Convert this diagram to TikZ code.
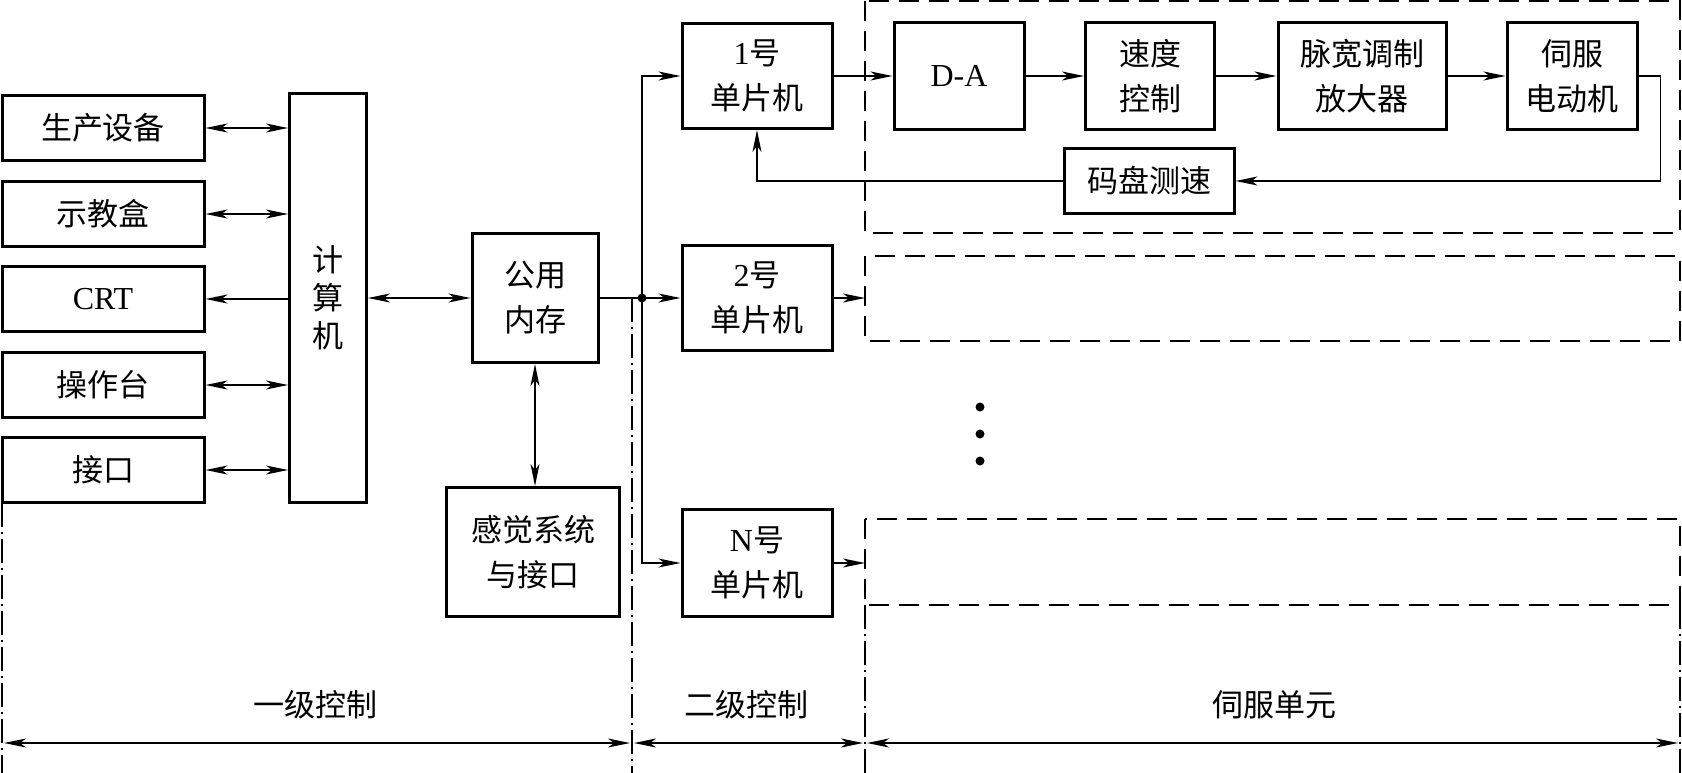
\documentclass[tikz,border=0pt]{standalone}
\usepackage{fontspec}
\setmainfont{Liberation Serif}
\newfontfamily\cjk{Noto Sans CJK SC}
\newcommand{\lat}[1]{{\rmfamily\fontsize{32}{45}\selectfont #1}}
\usetikzlibrary{arrows.meta}
\tikzstyle{block_node} = [
    rectangle,
    draw=black,
    line width=3pt,
    align=center,
    inner sep=0pt,
    font=\cjk\fontsize{31}{45}\selectfont
]
\tikzstyle{label_text} = [
    font=\cjk\fontsize{31}{36}\selectfont
]
\tikzstyle{link} = [
    line width=1.5pt,
    -{Stealth[length=22pt, width=9pt, inset=6pt]}
]
\tikzstyle{both_link} = [
    line width=1.5pt,
    {Stealth[length=22pt, width=9pt, inset=6pt]}-{Stealth[length=22pt, width=9pt, inset=6pt]}
]
\tikzstyle{servo_frame} = [
    line width=2pt,
    dash pattern=on 20pt off 10pt
]
\tikzstyle{divider} = [
    line width=1.5pt,
    dash pattern=on 24pt off 5pt on 2pt off 5pt
]
\begin{document}
\begin{tikzpicture}[x=1pt, y=-1pt]
\useasboundingbox (0,0) rectangle (1682,773);

% first level
\node [block_node, minimum width=202pt, minimum height=65pt] (prod) at (103,128) {生产设备};
\node [block_node, minimum width=202pt, minimum height=65pt] (teach) at (103,214) {示教盒};
\node [block_node, minimum width=202pt, minimum height=65pt] (crt) at (103,299) {\lat{CRT}};
\node [block_node, minimum width=202pt, minimum height=65pt] (panel) at (103,385) {操作台};
\node [block_node, minimum width=202pt, minimum height=65pt] (port) at (103,470) {接口};
\node [block_node, minimum width=77pt, minimum height=409pt, font=\cjk\fontsize{31}{38}\selectfont] (comp) at (328,298) {计\\算\\机};
\node [block_node, minimum width=126pt, minimum height=129pt] (mem) at (535,298) {公用\\内存};
\node [block_node, minimum width=173pt, minimum height=129pt] (sense) at (533,552) {感觉系统\\与接口};

% second level
\node [block_node, minimum width=150pt, minimum height=105pt] (mcu1) at (757,76) {\lat{1}号\\单片机};
\node [block_node, minimum width=150pt, minimum height=105pt] (mcu2) at (757,298) {\lat{2}号\\单片机};
\node [block_node, minimum width=150pt, minimum height=107pt] (mcuN) at (757,563) {\lat{N}号\\单片机};

% servo unit
\node [block_node, minimum width=130pt, minimum height=107pt] (da) at (959,76) {\lat{D-A}};
\node [block_node, minimum width=129pt, minimum height=107pt] (speed) at (1150,76) {速度\\控制};
\node [block_node, minimum width=168pt, minimum height=107pt] (pwm) at (1362,76) {脉宽调制\\放大器};
\node [block_node, minimum width=130pt, minimum height=107pt] (motor) at (1572,76) {伺服\\电动机};
\node [block_node, minimum width=170pt, minimum height=64pt] (encoder) at (1149,181) {码盘测速};

\draw [servo_frame] (865,1) rectangle (1680,233);
\draw [servo_frame] (865,256) rectangle (1680,341);
\draw [servo_frame] (865,519) rectangle (1680,605);

\draw [both_link] (prod.east) -- (prod.east -| comp.west);
\draw [both_link] (teach.east) -- (teach.east -| comp.west);
\draw [link] (crt.east -| comp.west) -- (crt.east);
\draw [both_link] (panel.east) -- (panel.east -| comp.west);
\draw [both_link] (port.east) -- (port.east -| comp.west);
\draw [both_link] (comp.east) -- (mem.west);
\draw [both_link] (mem.south) -- (mem.south |- sense.north);

\coordinate (bus) at (642,298);
\draw [line width=1.5pt] (mem.east) -- (bus);
\fill (bus) circle (4.5pt);
\draw [link] (bus) |- (mcu1.west);
\draw [link] (bus) -- (mcu2.west);
\draw [link] (bus) |- (mcuN.west);

\coordinate (slot2) at (865,298);
\coordinate (slotN) at (865,563);
\draw [link] (mcu2.east) -- (slot2);
\draw [link] (mcuN.east) -- (slotN);

\draw [link] (mcu1.east) -- (da.west);
\draw [link] (da.east) -- (speed.west);
\draw [link, line width=2.5pt] (speed.east) -- (pwm.west);
\draw [link, line width=2pt] (pwm.east) -- (motor.west);
\draw [link] (motor.east) -- ([xshift=22pt]motor.east) |- (encoder.east);
\draw [link] (encoder.west) -| (mcu1.south);

\fill (980,407) circle (4.5pt);
\fill (980,434) circle (4.5pt);
\fill (980,461) circle (4.5pt);

% control levels
\draw [divider] (2,503) -- (2,773);
\draw [divider] (632,298) -- (632,773);
\draw [divider] (865,605) -- (865,773);
\draw [divider] (1680,605) -- (1680,773);

\coordinate (d0) at (4,743);
\coordinate (d1) at (630,743);
\coordinate (d2) at (634,743);
\coordinate (d3) at (863,743);
\coordinate (d4) at (867,743);
\coordinate (d5) at (1678,743);
\draw [both_link] (d0) -- (d1);
\draw [both_link, line width=2pt] (d2) -- (d3);
\draw [both_link, line width=2pt] (d4) -- (d5);

\node [label_text] (lvl1) at (315,705) {一级控制};
\node [label_text] (lvl2) at (746,705) {二级控制};
\node [label_text] (lvl3) at (1274,705) {伺服单元};
\end{tikzpicture}
\end{document}
